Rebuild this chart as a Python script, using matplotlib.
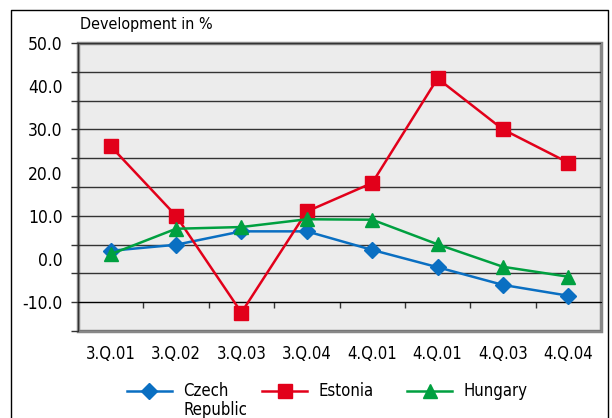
import numpy as np
import matplotlib
matplotlib.use('Agg')
import matplotlib.pyplot as plt
from matplotlib.patches import Rectangle

plt.rcParams['font.family'] = ['DejaVu Sans']
plt.rcParams['font.stretch'] = 'condensed'

# data
quarters = ["3.Q.01", "3.Q.02", "3.Q.03", "3.Q.04", "4.Q.01", "4.Q.01", "4.Q.03", "4.Q.04"]
czech = [1.9, 3.3, 6.4, 6.4, 2.1, -1.9, -6.0, -8.5]
estonia = [26.1, 10.0, -12.4, 11.0, 17.6, 41.8, 30.0, 22.3]
hungary = [1.1, 7.0, 7.4, 9.2, 9.1, 3.4, -1.8, -4.1]
y_labels = [-10, 0, 10, 20, 30, 40, 50]

blue = '#0a6fc2'
red = '#e2001a'
green = '#00a040'

fig = plt.figure(figsize=(6.12, 4.18), dpi=100)
ax = fig.add_axes([78 / 612, 1 - 331 / 418, (601 - 78) / 612, (331 - 43) / 418])
ax.set_facecolor('#ececec')

x = np.arange(len(quarters))
ax.plot(x, czech, color=blue, lw=1.8, marker='D', ms=8, label='Czech', zorder=3)
ax.plot(x, estonia, color=red, lw=1.8, marker='s', ms=10, label='Estonia', zorder=3)
ax.plot(x, hungary, color=green, lw=1.8, marker='^', ms=10, label='Hungary', zorder=3)

ymin, ymax = -50 / 3, 50
ax.set_ylim(ymin, ymax)
ax.set_xlim(-0.5, len(quarters) - 0.5)

# gridlines (10 intervals) are the major ticks, labels sit on minor ticks
grid = np.linspace(ymin, ymax, 11)
ax.yaxis.remove_overlapping_locs = False
ax.set_yticks(grid)
ax.set_yticklabels([])
ax.set_yticks(y_labels, minor=True)
ax.set_yticklabels([f"{v:.1f}" for v in y_labels], minor=True, fontsize=12.5)
ax.tick_params(axis='y', which='major', length=5, width=1, color='#333333')
ax.tick_params(axis='y', which='minor', length=0, pad=11)
ax.yaxis.grid(True, which='major', color='#333333', lw=1)
ax.set_axisbelow(True)

# x axis crosses at -10
ax.spines['bottom'].set_position(('data', -10))
ax.spines['bottom'].set_color('black')
ax.set_xticks(x)
ax.set_xticklabels(quarters, fontsize=12)
ax.set_xticks(x[:-1] + 0.5, minor=True)
ax.tick_params(axis='x', which='major', length=0, pad=31)
ax.tick_params(axis='x', which='minor', length=4, width=1, color='#333333')

for s in ['top', 'right']:
    ax.spines[s].set_visible(False)
ax.spines['left'].set_color('#333333')
ax.add_patch(Rectangle((0, 0), 1, 1, transform=ax.transAxes, fill=False,
                       edgecolor='#888888', lw=2.5, clip_on=False, zorder=0))

fig.text(80 / 612, 1 - 25 / 418, "Development in %", fontsize=11.5, va='center', ha='left')

# outer frame (open at the bottom)
fig.add_artist(plt.Line2D([11 / 612, 11 / 612, 608 / 612, 608 / 612],
                          [0, 1 - 10 / 418, 1 - 10 / 418, 0],
                          transform=fig.transFigure, color='black', lw=1))

leg = fig.legend(loc='upper center', bbox_to_anchor=(0.535, 1 - 374 / 418), ncol=3, frameon=False,
                 fontsize=12, handlelength=2.7, columnspacing=2.0, handletextpad=0.7,
                 borderpad=0, labelspacing=0)

# second line of the Czech label, under the first
fig.canvas.draw()
bb = leg.get_texts()[0].get_window_extent().transformed(fig.transFigure.inverted())
fig.text(bb.x0, bb.y0 - 1 / 418, "Republic", fontsize=12, ha='left', va='top')

plt.savefig("out.png", dpi=100)
